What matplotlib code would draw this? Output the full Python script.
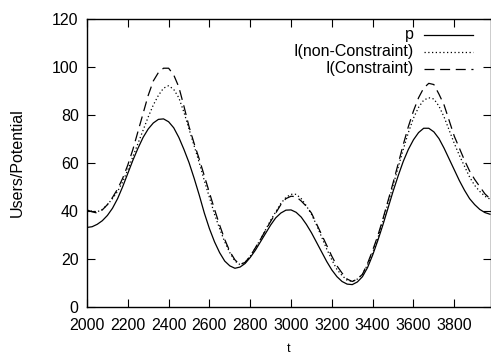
import matplotlib
matplotlib.use("Agg")
import matplotlib.pyplot as plt
from matplotlib.lines import Line2D

# time axis (t), sampled every 25
t = [2000, 2025, 2050, 2075, 2100, 2125, 2150, 2175, 2200, 2225,
     2250, 2275, 2300, 2325, 2350, 2375, 2400, 2425, 2450, 2475,
     2500, 2525, 2550, 2575, 2600, 2625, 2650, 2675, 2700, 2725,
     2750, 2775, 2800, 2825, 2850, 2875, 2900, 2925, 2950, 2975,
     3000, 3025, 3050, 3075, 3100, 3125, 3150, 3175, 3200, 3225,
     3250, 3275, 3300, 3325, 3350, 3375, 3400, 3425, 3450, 3475,
     3500, 3525, 3550, 3575, 3600, 3625, 3650, 3675, 3700, 3725,
     3750, 3775, 3800, 3825, 3850, 3875, 3900, 3925, 3950, 3975]

# potential p
p = [33.0, 33.3, 34.3, 35.8, 38.0, 41.0, 45.0, 50.0, 55.5, 61.0,
     66.0, 70.5, 74.0, 76.5, 78.0, 78.2, 77.0, 74.5, 70.5, 65.5,
     60.0, 53.5, 46.5, 39.0, 32.5, 27.0, 22.5, 19.0, 17.0, 16.0,
     16.5, 18.0, 20.5, 23.5, 27.0, 30.5, 34.0, 37.0, 39.0, 40.2,
     40.3, 39.3, 37.3, 34.3, 30.8, 26.8, 22.8, 18.8, 15.3, 12.5,
     10.5, 9.4, 9.2, 10.3, 12.5, 16.3, 21.5, 27.5, 34.0, 41.0,
     48.0, 54.5, 60.5, 65.5, 69.5, 72.5, 74.3, 74.3, 72.8, 70.0,
     66.0, 61.5, 57.0, 52.5, 48.5, 45.0, 42.5, 40.5, 39.2, 38.5]

# users without constraint
i_free = [40.0, 39.8, 39.5, 40.5, 42.5, 45.0, 48.0, 52.0, 57.0, 62.5,
          68.0, 73.5, 79.0, 84.0, 88.0, 91.0, 92.0, 90.5, 87.0, 81.0,
          74.0, 67.0, 60.0, 52.5, 45.5, 38.5, 32.5, 27.0, 22.5, 19.0,
          17.5, 18.5, 21.0, 24.5, 28.0, 32.0, 36.0, 39.5, 43.0, 45.5,
          46.8, 46.8, 45.0, 42.0, 38.5, 34.0, 29.0, 24.0, 19.5, 15.5,
          13.0, 11.0, 10.5, 11.5, 13.5, 17.5, 22.5, 28.5, 35.5, 43.0,
          50.5, 58.0, 65.5, 72.5, 78.5, 83.0, 86.0, 87.0, 86.5, 83.5,
          79.0, 73.5, 68.0, 63.0, 58.5, 54.0, 50.5, 48.0, 46.0, 44.8]

# users with constraint
i_con = [40.3, 39.5, 39.0, 40.3, 42.5, 45.5, 49.0, 53.5, 59.0, 65.5,
         73.0, 80.5, 88.0, 94.0, 97.5, 99.3, 99.3, 96.5, 91.5, 83.5,
         75.0, 68.0, 61.5, 54.5, 47.5, 40.5, 34.0, 28.0, 23.0, 19.5,
         17.5, 18.5, 21.0, 24.5, 28.0, 31.8, 35.5, 39.0, 42.5, 45.0,
         46.0, 45.8, 44.0, 41.8, 39.0, 34.5, 30.0, 25.5, 21.0, 17.0,
         14.0, 11.5, 10.5, 11.5, 13.5, 18.0, 23.5, 29.5, 36.5, 44.0,
         51.5, 59.5, 67.5, 75.0, 81.5, 87.0, 91.0, 93.0, 92.5, 88.5,
         84.0, 77.5, 71.0, 66.0, 61.0, 56.5, 53.0, 50.0, 47.0, 45.0]

labels = ["p", "I(non-Constraint)", "I(Constraint)"]

plt.rcParams["font.family"] = ["Liberation Sans", "DejaVu Sans"]
plt.rcParams["font.size"] = 11.5

fig = plt.figure(figsize=(4.91, 3.53), dpi=100)
ax = fig.add_axes([87 / 491, 46.3 / 353, 404 / 491, 288.2 / 353])

styles = [
    dict(linestyle="-", lw=0.9),
    dict(linestyle=(0, (1, 2)), lw=0.9),
    dict(linestyle=(0, (8, 4.5)), lw=0.9),
]
for y, st in zip([p, i_free, i_con], styles):
    ax.plot(t, y, color="black", **st)

ax.set_xlim(2000, 3980)
ax.set_ylim(0, 120)
ax.set_xticks(range(2000, 3801, 200))
ax.set_yticks(range(0, 121, 20))
ax.tick_params(direction="in", length=6, width=0.8, top=True, right=True)
ax.tick_params(axis="x", pad=8)
ax.tick_params(axis="y", pad=6)
for s in ax.spines.values():
    s.set_linewidth(1.0)

ax.set_xlabel("t", fontsize=9, labelpad=7)
ax.set_ylabel("Users/Potential", labelpad=20)

# gnuplot-style key, top right
for k, (lab, st) in enumerate(zip(labels, styles)):
    yk = 0.944 - k * 0.059
    ax.text(0.81, yk, lab, transform=ax.transAxes, ha="right", va="center")
    ax.add_line(Line2D([0.835, 0.955], [yk, yk], transform=ax.transAxes,
                       color="black", **st))

fig.savefig("out.png", dpi=100)
